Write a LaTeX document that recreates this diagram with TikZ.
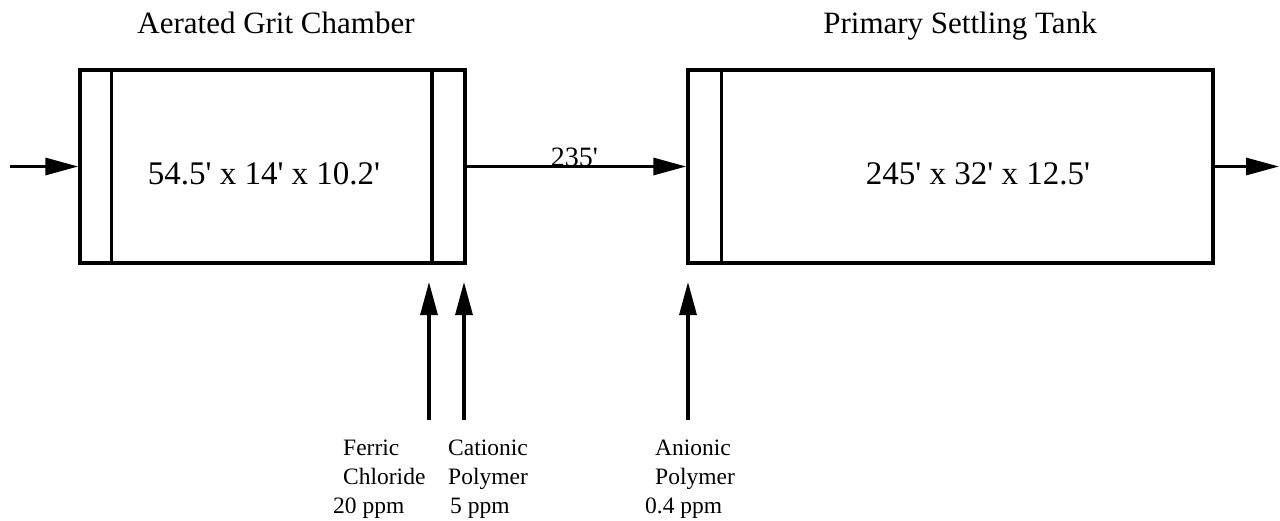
\documentclass[tikz,border=0pt]{standalone}
\usepackage{fontspec}
\setmainfont{Liberation Serif}[Ligatures=TeXOff]
\usetikzlibrary{arrows.meta,calc}
\tikzset{
  tank/.style={draw=black, line width=3.5pt, rectangle, inner sep=0pt},
  divider/.style={draw=black, line width=3.5pt},
  flow/.style={draw=black, line width=3.2pt, -{Triangle[length=33pt,width=17pt]}},
  titletext/.style={font=\fontsize{31}{31}\selectfont, inner sep=0pt, anchor=base},
  dimtext/.style={font=\fontsize{33}{33}\selectfont, inner sep=0pt},
  lentext/.style={font=\fontsize{28}{28}\selectfont, inner sep=0pt, anchor=base},
  chemtext/.style={font=\fontsize{23.5}{23.5}\selectfont, inner sep=0pt, anchor=base west},
}
\begin{document}
\begin{tikzpicture}[x=1pt,y=-1pt]
\useasboundingbox (0,0) rectangle (1280,520);
% titles
\node[titletext] (t1) at (276,33) {Aerated Grit Chamber};
\node[titletext] (t2) at (960,33) {Primary Settling Tank};
% tanks
\node[tank, minimum width=385pt, minimum height=193pt] (grit) at (272.5,166.5) {};
\node[tank, minimum width=525pt, minimum height=193pt] (settle) at (950.5,166.5) {};
\draw[divider] ($(grit.north west)+(33,0)$) -- ($(grit.south west)+(33,0)$);
\draw[divider] ($(grit.north east)+(-35,0)$) -- ($(grit.south east)+(-35,0)$);
\draw[divider] ($(settle.north west)+(35,0)$) -- ($(settle.south west)+(35,0)$);
\node[dimtext] (d1) at (264,174) {54.5' x 14' x 10.2'};
\node[dimtext] (d2) at (978,174) {245' x 32' x 12.5'};
% flow
\coordinate (inflow) at (10,166.5);
\coordinate (outflow) at (1279,166.5);
\draw[flow] (inflow) -- (grit.west);
\draw[flow] (grit.east) -- (settle.west) node[lentext, pos=0.49] (len) {235'};
\draw[flow] (settle.east) -- (outflow);
% chemical feeds
\coordinate (f1s) at (429,420); \coordinate (f1e) at (429,282);
\coordinate (f2s) at (464,420); \coordinate (f2e) at (464,282);
\coordinate (f3s) at (688,420); \coordinate (f3e) at (688,282);
\draw[flow] (f1s) -- (f1e);
\draw[flow] (f2s) -- (f2e);
\draw[flow] (f3s) -- (f3e);
% labels
\node[chemtext] (a1) at (343,455) {Ferric};
\node[chemtext] (a2) at (343,484) {Chloride};
\node[chemtext] (a3) at (333,513) {20 ppm};
\node[chemtext] (b1) at (448,455) {Cationic};
\node[chemtext] (b2) at (448,484) {Polymer};
\node[chemtext] (b3) at (450,513) {5 ppm};
\node[chemtext] (c1) at (655,455) {Anionic};
\node[chemtext] (c2) at (655,484) {Polymer};
\node[chemtext] (c3) at (645,513) {0.4 ppm};
\end{tikzpicture}
\end{document}
